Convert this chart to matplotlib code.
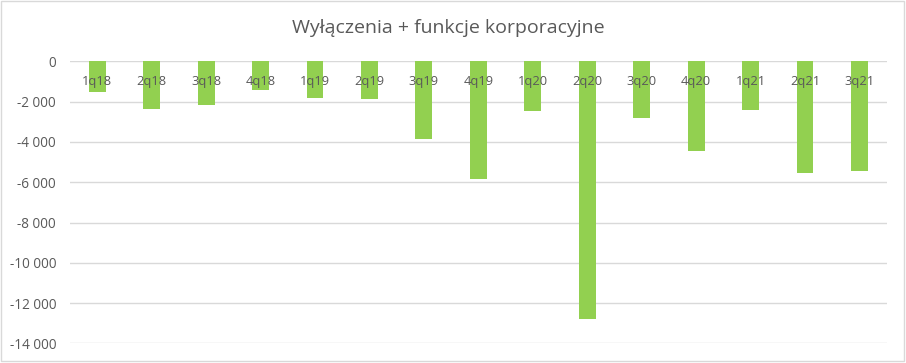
import matplotlib
matplotlib.use("Agg")
import matplotlib.pyplot as plt
from matplotlib.patches import Rectangle
from matplotlib.ticker import FuncFormatter

# Data
quarters = ["1q18", "2q18", "3q18", "4q18", "1q19", "2q19", "3q19", "4q19",
            "1q20", "2q20", "3q20", "4q20", "1q21", "2q21", "3q21"]
values = [-1510, -2360, -2160, -1410, -1810, -1860, -3850, -5840,
          -2460, -12800, -2810, -4450, -2410, -5540, -5440]
y_ticks = list(range(-14000, 1, 2000))

plt.rcParams['font.family'] = ['Open Sans', 'DejaVu Sans']
grey = '#595959'

fig = plt.figure(figsize=(9.06, 3.63), dpi=100)
ax = fig.add_axes([0.0773, 0.054, 0.9014, 0.777])

x = range(len(quarters))
ax.bar(x, values, width=0.31, color='#92D050', zorder=2)

ax.set_xlim(-0.5, len(quarters) - 0.5)
ax.set_ylim(-14000, 0)
ax.set_yticks(y_ticks)
ax.yaxis.set_major_formatter(FuncFormatter(lambda v, p: f"{int(v):,}".replace(",", " ")))
ax.tick_params(axis='y', length=0, labelsize=9.8, labelcolor=grey, pad=10)
ax.set_xticks([])
ax.grid(axis='y', color='#D9D9D9', linewidth=1, zorder=0)
ax.set_axisbelow(True)
for s in ax.spines.values():
    s.set_visible(False)

# category labels sit just below the zero line, over the bars
for i, q in enumerate(quarters):
    ax.annotate(q, xy=(i, 0), xytext=(0, -14.5), textcoords='offset points',
                ha='center', va='center', fontsize=9.3, color=grey, zorder=3)

fig.text(0.495, 0.923, "Wyłączenia + funkcje korporacyjne", ha='center', va='center',
         fontsize=14, color=grey)

# chart border
fig.patches.append(Rectangle((0.001, 0.005), 0.997, 0.993, transform=fig.transFigure,
                             fill=False, edgecolor='#D9D9D9', linewidth=1))

fig.savefig("out.png", dpi=100)
